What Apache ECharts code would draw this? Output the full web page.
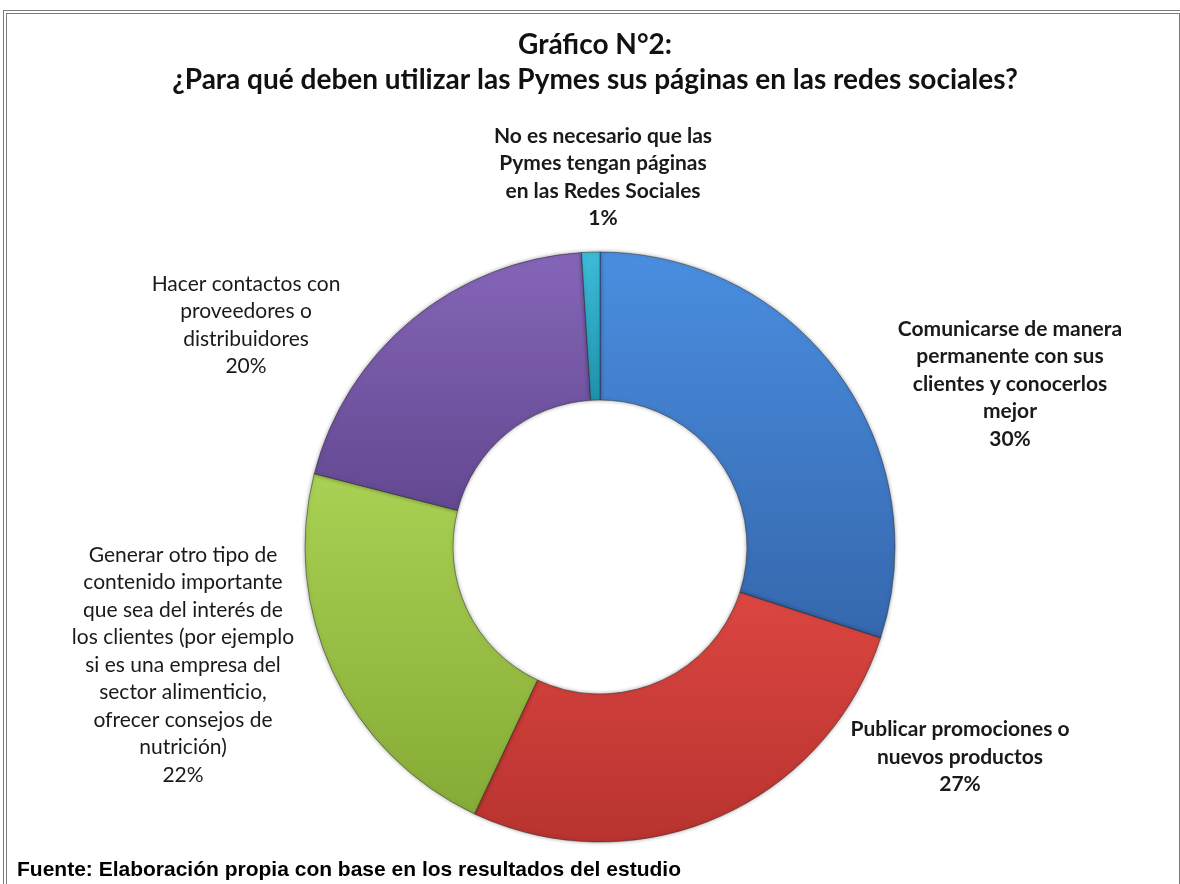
<!DOCTYPE html>
<html>
<head>
<meta charset="utf-8">
<script src="https://cdn.jsdelivr.net/npm/echarts@6/dist/echarts.min.js"></script>
<style>
  html, body { margin: 0; padding: 0; background: #fff; }
  #frame {
    position: absolute; left: 3px; top: 10px; width: 1180px; height: 900px;
    border: 4px double #7a7a7a; box-sizing: border-box;
  }
  #chart { position: absolute; left: 0; top: 0; width: 1180px; height: 884px; }
</style>
</head>
<body>
<div id="frame"></div>
<div id="chart"></div>
<script>
// categorías y porcentajes (en sentido horario desde arriba)
const categories = [
  "Comunicarse de manera\npermanente con sus\nclientes y conocerlos\nmejor",
  "Publicar promociones o\nnuevos productos",
  "Generar otro tipo de\ncontenido importante\nque sea del interés de\nlos clientes (por ejemplo\nsi es una empresa del\nsector alimenticio,\nofrecer consejos de\nnutrición)",
  "Hacer contactos con\nproveedores o\ndistribuidores",
  "No es necesario que las\nPymes tengan páginas\nen las Redes Sociales"
];
const values = [30, 27, 22, 20, 1];
const boldLabel = [true, true, false, false, true];

// colores (arriba / abajo del degradado)
const colorsTop = ["#4a8ee0", "#dc4641", "#a9d153", "#8565b8", "#3cbcd8"];
const colorsBottom = ["#3567ad", "#b8332f", "#86ab36", "#634891", "#1f93ad"];

// donde va cada etiqueta
const labelPos = [[1010, 384], [960, 757], [183, 665], [246, 325], [603, 177]];

const chart = echarts.init(document.getElementById("chart"));

const pieData = values.map((v, i) => ({
  name: categories[i],
  value: v,
  itemStyle: {
    color: new echarts.graphic.LinearGradient(0, 0, 0, 1, [
      { offset: 0, color: colorsTop[i] },
      { offset: 1, color: colorsBottom[i] }
    ])
  },
  label: {
    fontWeight: boldLabel[i] ? "bold" : "normal",
    fontSize: 21
  }
}));

chart.setOption({
  animation: false,
  title: [
    {
      text: "Gráfico N°2:\n¿Para qué deben utilizar las Pymes sus páginas en las redes sociales?",
      left: 590,
      top: 22,
      textAlign: "center",
      textStyle: {
        fontFamily: "Lato",
        fontSize: 28,
        fontWeight: "bold",
        color: "#111",
        lineHeight: 35
      }
    },
    {
      text: "Fuente: Elaboración propia con base en los resultados del estudio",
      left: 12,
      top: 855,
      textStyle: {
        fontFamily: "Liberation Sans",
        fontSize: 21,
        fontWeight: "bold",
        color: "#000"
      }
    }
  ],
  series: [
    {
      type: "pie",
      center: [600, 547],
      radius: [147, 295],
      startAngle: 90,
      clockwise: true,
      avoidLabelOverlap: false,
      itemStyle: {
        borderColor: "rgba(40,40,40,0.5)",
        borderWidth: 1,
        shadowBlur: 4,
        shadowColor: "rgba(0,0,0,0.35)"
      },
      label: {
        show: true,
        position: "outside",
        formatter: (p) => p.name + "\n" + p.value + "%",
        fontFamily: "Lato",
        lineHeight: 27.5,
        color: "#1a1a1a",
        align: "center"
      },
      labelLine: { show: false },
      labelLayout: (params) => ({
        x: labelPos[params.dataIndex][0],
        y: labelPos[params.dataIndex][1],
        align: "center",
        verticalAlign: "middle"
      }),
      data: pieData
    }
  ]
});
</script>
</body>
</html>
